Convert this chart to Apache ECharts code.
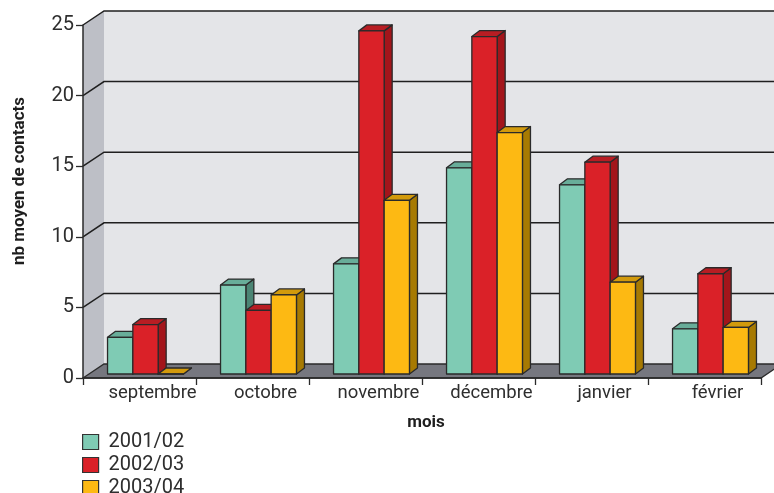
<!DOCTYPE html>
<html>
<head>
<meta charset="utf-8">
<script src="https://cdn.jsdelivr.net/npm/echarts@6/dist/echarts.min.js"></script>
<style>
  html, body { margin: 0; padding: 0; background: #fff; }
  #chart { width: 774px; height: 493px; }
</style>
</head>
<body>
<div id="chart"></div>
<script>
// Monthly average number of contacts, three school years
const months = ['septembre', 'octobre', 'novembre', 'décembre', 'janvier', 'février'];
const seasons = ['2001/02', '2002/03', '2003/04'];
const values2001 = [2.6, 6.3, 7.8, 14.6, 13.4, 3.2];
const values2002 = [3.5, 4.5, 24.3, 23.9, 15.0, 7.1];
const values2003 = [0, 5.6, 12.3, 17.1, 6.5, 3.3];
const yTicks = [0, 5, 10, 15, 20, 25];

// box colours per season: front face, right side, top
const palette = [
  { front: '#7FCBB4', side: '#4B8574', top: '#68AD99' },
  { front: '#DA2128', side: '#A3151B', top: '#B81D23' },
  { front: '#FDB913', side: '#A77A02', top: '#D29A0C' }
];

// pseudo-3D geometry (pixels)
const WALL_DX = 21, WALL_DY = -14;   // depth of the frame
const PLANE_DX = 6, PLANE_DY = -4;   // bars sit slightly behind the front plane
const BOX_DX = 8, BOX_DY = -6;       // depth of each box
const BAR_RATIO = 0.224;             // bar width as share of the category band
const EDGE = '#2a2a2a';

function frameRenderer(params, api) {
  const cs = params.coordSys;
  const L = cs.x, R = cs.x + cs.width;
  const y0 = api.coord([0, 0])[1];
  const yTop = api.coord([0, yTicks[yTicks.length - 1]])[1];
  const children = [];
  // left side wall
  children.push({
    type: 'polygon',
    shape: { points: [[L, y0], [L, yTop], [L + WALL_DX, yTop + WALL_DY], [L + WALL_DX, y0 + WALL_DY]] },
    style: { fill: '#BDBFC6', stroke: null }
  });
  // back wall
  children.push({
    type: 'rect',
    shape: { x: L + WALL_DX, y: yTop + WALL_DY, width: R - L, height: y0 - yTop },
    style: { fill: '#E4E5E8', stroke: null }
  });
  // floor
  children.push({
    type: 'polygon',
    shape: { points: [[L, y0], [R, y0], [R + WALL_DX, y0 + WALL_DY], [L + WALL_DX, y0 + WALL_DY]] },
    style: { fill: '#76777F', stroke: EDGE, lineWidth: 1.3 }
  });
  // grid lines running along the side wall and the back wall
  yTicks.forEach(function (v) {
    if (v === 0) return;
    const y = api.coord([0, v])[1];
    children.push({
      type: 'polyline',
      shape: { points: [[L, y], [L + WALL_DX, y + WALL_DY], [R + WALL_DX + 20, y + WALL_DY]] },
      style: { stroke: '#1f1f1f', lineWidth: 1.5, fill: null }
    });
  });
  return { type: 'group', children: children };
}

function boxRenderer(seriesIndex) {
  const c = palette[seriesIndex];
  return function (params, api) {
    const cat = api.value(0);
    const val = api.value(1);
    const base = api.coord([cat, 0]);
    const top = api.coord([cat, val]);
    const band = api.size([1, 0])[0];
    const bw = band * BAR_RATIO;
    const x0 = base[0] + (seriesIndex - 1.5) * bw + PLANE_DX;
    const x1 = x0 + bw;
    const yb = base[1] + PLANE_DY;
    const yt = top[1] + PLANE_DY;
    const edge = { stroke: EDGE, lineWidth: 1.3, lineJoin: 'round' };
    return {
      type: 'group',
      children: [
        {
          type: 'polygon',
          shape: { points: [[x1, yb], [x1, yt], [x1 + BOX_DX, yt + BOX_DY], [x1 + BOX_DX, yb + BOX_DY]] },
          style: Object.assign({ fill: c.side }, edge)
        },
        {
          type: 'polygon',
          shape: { points: [[x0, yt], [x1, yt], [x1 + BOX_DX, yt + BOX_DY], [x0 + BOX_DX, yt + BOX_DY]] },
          style: Object.assign({ fill: c.top }, edge)
        },
        {
          type: 'rect',
          shape: { x: x0, y: yt, width: bw, height: yb - yt },
          style: Object.assign({ fill: c.front }, edge)
        }
      ]
    };
  };
}

const seriesValues = [values2001, values2002, values2003];

const chart = echarts.init(document.getElementById('chart'), null, { renderer: 'canvas' });

const series = [{
  type: 'custom',
  name: 'frame',
  renderItem: frameRenderer,
  data: [[0, 0]],
  clip: false,
  silent: true,
  z: 1
}];
seriesValues.forEach(function (vals, i) {
  series.push({
    type: 'custom',
    name: seasons[i],
    renderItem: boxRenderer(i),
    data: vals.map(function (v, k) { return [k, v]; }),
    itemStyle: { color: palette[i].front },
    clip: false,
    z: 2 + i
  });
});

chart.setOption({
  animation: false,
  backgroundColor: '#ffffff',
  textStyle: { fontFamily: 'Roboto' },
  grid: { left: 83, right: 13, top: 25, bottom: 115 },
  xAxis: {
    type: 'category',
    data: months,
    z: 10,
    boundaryGap: true,
    axisLine: { lineStyle: { color: EDGE, width: 1.5 } },
    axisTick: { show: true, length: 7, lineStyle: { color: EDGE, width: 1.3 } },
    axisLabel: {
      interval: 0,
      fontSize: 18.5,
      color: '#2e2e2e',
      margin: 6,
      padding: [0, 0, 0, 26]
    },
    splitLine: { show: false }
  },
  yAxis: {
    type: 'value',
    min: 0,
    max: 25,
    interval: 5,
    z: 10,
    axisLine: { show: true, lineStyle: { color: EDGE, width: 1.5 } },
    axisTick: { show: true, length: 7, lineStyle: { color: EDGE, width: 1.3 } },
    axisLabel: { fontSize: 20, color: '#2e2e2e', margin: 9 },
    splitLine: { show: false }
  },
  legend: {
    data: seasons,
    orient: 'vertical',
    left: 82,
    top: 432,
    height: 120,
    padding: 0,
    itemWidth: 16,
    itemHeight: 15,
    itemGap: 3,
    icon: 'rect',
    itemStyle: { borderColor: '#333', borderWidth: 1.2 },
    textStyle: { fontSize: 20, color: '#2e2e2e', fontFamily: 'Roboto', padding: [0, 0, 0, 5] }
  },
  graphic: [
    {
      type: 'text',
      x: 20,
      y: 181,
      rotation: Math.PI / 2,
      style: {
        text: 'nb moyen de contacts',
        font: 'bold 17px Roboto',
        fill: '#1e1e1e',
        align: 'center',
        verticalAlign: 'middle'
      }
    },
    {
      type: 'text',
      x: 426,
      y: 423,
      style: {
        text: 'mois',
        font: 'bold 17px Roboto',
        fill: '#1e1e1e',
        align: 'center',
        verticalAlign: 'middle'
      }
    }
  ],
  series: series
});
</script>
</body>
</html>
